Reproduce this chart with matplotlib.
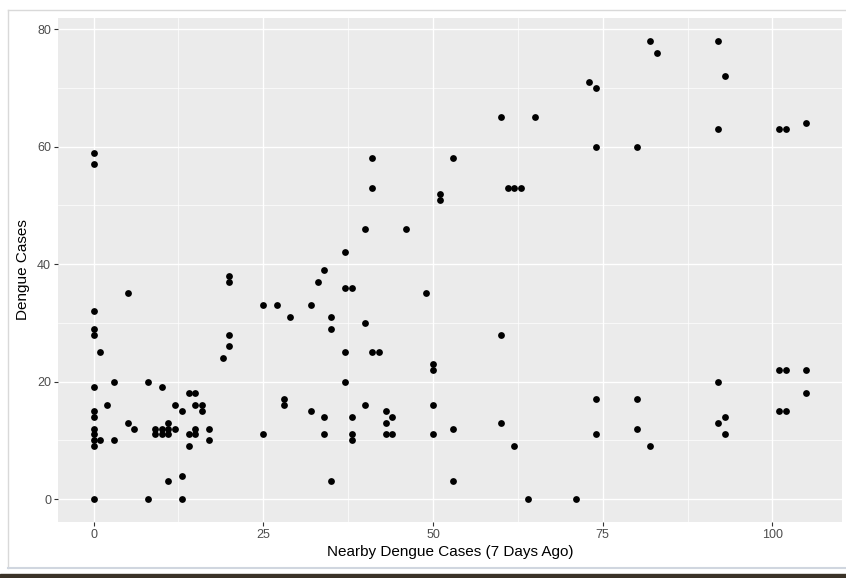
import matplotlib
matplotlib.use("Agg")
import matplotlib.pyplot as plt
from matplotlib.patches import Rectangle
from matplotlib.lines import Line2D

# nearby cases (7 days ago) -> dengue cases
nearby = [0]*13 + [1, 1, 2, 3, 3, 5, 5, 6, 8, 8, 9, 9, 10, 10, 10,
          11, 11, 11, 11, 12, 12, 13, 13, 13, 14, 14, 14, 15, 15, 15, 15,
          16, 16, 17, 17, 19, 20, 20, 20, 20, 25, 25, 27, 28, 28, 29, 32, 32,
          33, 34, 34, 34, 35, 35, 35, 37, 37, 37, 37, 38, 38, 38, 38,
          40, 40, 40, 41, 41, 41, 42, 43, 43, 43, 44, 44, 46, 49,
          50, 50, 50, 50, 51, 51, 53, 53, 53, 60, 60, 60, 61, 62, 62, 63,
          64, 65, 71, 73, 74, 74, 74, 74, 80, 80, 80, 82, 82, 83,
          92, 92, 92, 92, 93, 93, 93, 101, 101, 101, 102, 102, 102,
          105, 105, 105]
cases = [59, 57, 32, 29, 28, 19, 15, 14, 12, 11, 10, 9, 0,
         25, 10, 16, 20, 10, 35, 13, 12, 20, 0, 12, 11, 19, 12, 11,
         13, 12, 11, 3, 16, 12, 15, 4, 0, 18, 11, 9, 18, 16, 12, 11,
         16, 15, 12, 10, 24, 38, 37, 28, 26, 33, 11, 33, 17, 16, 31, 33, 15,
         37, 39, 14, 11, 31, 29, 3, 42, 36, 25, 20, 36, 14, 11, 10,
         46, 30, 16, 58, 53, 25, 25, 15, 13, 11, 14, 11, 46, 35,
         23, 22, 16, 11, 52, 51, 58, 12, 3, 65, 28, 13, 53, 53, 9, 53,
         0, 65, 0, 71, 70, 60, 17, 11, 60, 17, 12, 78, 9, 76,
         78, 63, 20, 13, 72, 14, 11, 63, 22, 15, 63, 22, 15,
         64, 22, 18]

x_ticks = [0, 25, 50, 75, 100]
y_ticks = [0, 20, 40, 60, 80]

plt.rcParams['font.family'] = ['Liberation Sans', 'DejaVu Sans']

fig = plt.figure(figsize=(8.46, 5.78), dpi=100)
fig.patch.set_facecolor('white')

# screenshot frame around the plot
fig.add_artist(Line2D([8/846, 8/846], [1 - 10/578, 1 - 568/578], color='#d9d9d9', lw=1))
fig.add_artist(Line2D([8/846, 1], [1 - 10/578, 1 - 10/578], color='#d9d9d9', lw=1))
fig.add_artist(Line2D([8/846, 1], [1 - 568/578, 1 - 568/578], color='#d0d6df', lw=1.5))
fig.add_artist(Rectangle((0, 0), 1, 4/578, transform=fig.transFigure, color='#3b3328'))

ax = fig.add_axes([58/846, 1 - 522/578, 784/846, 504/578])
ax.set_facecolor('#EBEBEB')
for s in ax.spines.values():
    s.set_visible(False)

ax.scatter(nearby, cases, s=24, color='black', zorder=3, linewidths=0)

ax.set_xlim(-5.25, 110.25)
ax.set_ylim(-3.9, 81.9)
ax.set_xticks(x_ticks)
ax.set_yticks(y_ticks)
ax.set_xticks([12.5, 37.5, 62.5, 87.5], minor=True)
ax.set_yticks([10, 30, 50, 70], minor=True)
ax.grid(which='major', color='white', lw=1.0)
ax.grid(which='minor', color='white', lw=0.5)
ax.set_axisbelow(True)
ax.tick_params(which='major', length=3, width=0.8, color='#333333',
               labelcolor='#4D4D4D', labelsize=9, pad=2)
ax.tick_params(which='minor', length=0)

ax.set_xlabel('Nearby Dengue Cases (7 Days Ago)', fontsize=11, color='black', labelpad=3)
ax.set_ylabel('Dengue Cases', fontsize=11, color='black', labelpad=5)

fig.savefig('out.png', dpi=100)
